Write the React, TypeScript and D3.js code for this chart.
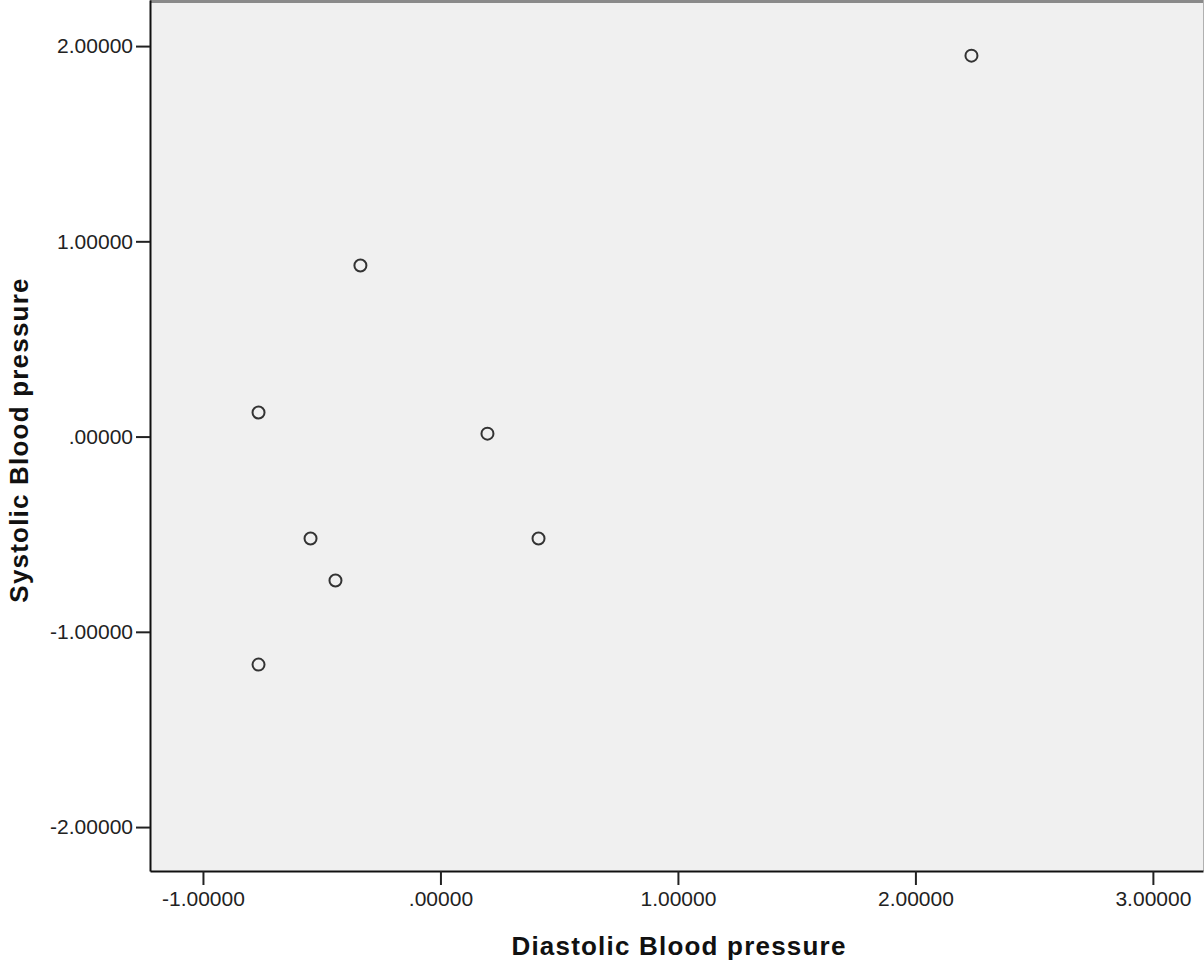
import React, { useEffect, useRef } from "react";
import * as d3 from "d3";

// standardized scores
const diastolic = [2.236, -0.337, -0.766, 0.198, -0.547, 0.413, -0.442, -0.766];
const systolic = [1.951, 0.876, 0.123, 0.015, -0.522, -0.522, -0.737, -1.168];
const xTicks = [-1, 0, 1, 2, 3];
const yTicks = [-2, -1, 0, 1, 2];
const xTitle = "Diastolic Blood pressure";
const yTitle = "Systolic Blood pressure";

const fmt = (v: number) => {
  const s = Math.abs(v).toFixed(5);
  const t = s.startsWith("0") ? s.slice(1) : s;
  return (v < 0 ? "-" : "") + t;
};

const App = () => {
  const ref = useRef<SVGSVGElement>(null);

  useEffect(() => {
    const width = 1204;
    const height = 962;
    const margin = { top: 0, right: 1, bottom: 91, left: 150 };
    const w = width - margin.left - margin.right;
    const h = height - margin.top - margin.bottom;

    const svg = d3.select(ref.current);
    svg.selectAll("*").remove();

    const x = d3.scaleLinear().domain([-1.223, 3.211]).range([0, w]);
    const y = d3.scaleLinear().domain([-2.225, 2.236]).range([h, 0]);

    const g = svg
      .append("g")
      .attr("transform", `translate(${margin.left}, ${margin.top})`);

    g.append("rect")
      .attr("width", w)
      .attr("height", h)
      .attr("fill", "#f0f0f0");

    // frame: top and right in gray, axes in black
    g.append("line")
      .attr("x1", 0)
      .attr("x2", w)
      .attr("y1", 1.5)
      .attr("y2", 1.5)
      .attr("stroke", "#8a8a8a")
      .attr("stroke-width", 3);
    g.append("line")
      .attr("x1", w + 0.5)
      .attr("x2", w + 0.5)
      .attr("y1", 0)
      .attr("y2", h)
      .attr("stroke", "#b0b0b0")
      .attr("stroke-width", 1);

    const font = "'Liberation Sans', Arial, sans-serif";

    const xAxis = d3
      .axisBottom(x)
      .tickValues(xTicks)
      .tickFormat((d) => fmt(d as number))
      .tickSize(14)
      .tickSizeOuter(0)
      .tickPadding(6);
    const gx = g
      .append("g")
      .attr("transform", `translate(0, ${h})`)
      .call(xAxis);
    gx.select(".domain").attr("stroke", "#111").attr("stroke-width", 2);
    gx.selectAll(".tick line").attr("stroke", "#222").attr("stroke-width", 2);
    gx.selectAll(".tick text")
      .attr("font-family", font)
      .attr("font-size", 21)
      .attr("fill", "#222");

    const yAxis = d3
      .axisLeft(y)
      .tickValues(yTicks)
      .tickFormat((d) => fmt(d as number))
      .tickSize(14)
      .tickSizeOuter(0)
      .tickPadding(3);
    const gy = g.append("g").call(yAxis);
    gy.select(".domain").attr("stroke", "#111").attr("stroke-width", 2);
    gy.selectAll(".tick line").attr("stroke", "#222").attr("stroke-width", 2);
    gy.selectAll(".tick text")
      .attr("font-family", font)
      .attr("font-size", 21)
      .attr("fill", "#222");

    g.append("g")
      .selectAll("circle")
      .data(diastolic.map((d, i) => ({ x: d, y: systolic[i] })))
      .join("circle")
      .attr("cx", (d) => x(d.x))
      .attr("cy", (d) => y(d.y))
      .attr("r", 6)
      .attr("fill", "none")
      .attr("stroke", "#333")
      .attr("stroke-width", 2);

    svg
      .append("text")
      .attr("x", 679)
      .attr("y", 955)
      .attr("text-anchor", "middle")
      .attr("font-family", font)
      .attr("font-weight", "bold")
      .attr("font-size", 26)
      .attr("letter-spacing", 1.2)
      .attr("fill", "#111")
      .text(xTitle);

    svg
      .append("text")
      .attr("transform", `translate(28, 440) rotate(-90)`)
      .attr("text-anchor", "middle")
      .attr("font-family", font)
      .attr("font-weight", "bold")
      .attr("font-size", 26)
      .attr("letter-spacing", 1.2)
      .attr("fill", "#111")
      .text(yTitle);
  }, []);

  return (
    <div style={{ position: "absolute", left: 0, top: 0 }}>
      <svg ref={ref} width={1204} height={962} style={{ display: "block" }}></svg>
    </div>
  );
};

export default App;
